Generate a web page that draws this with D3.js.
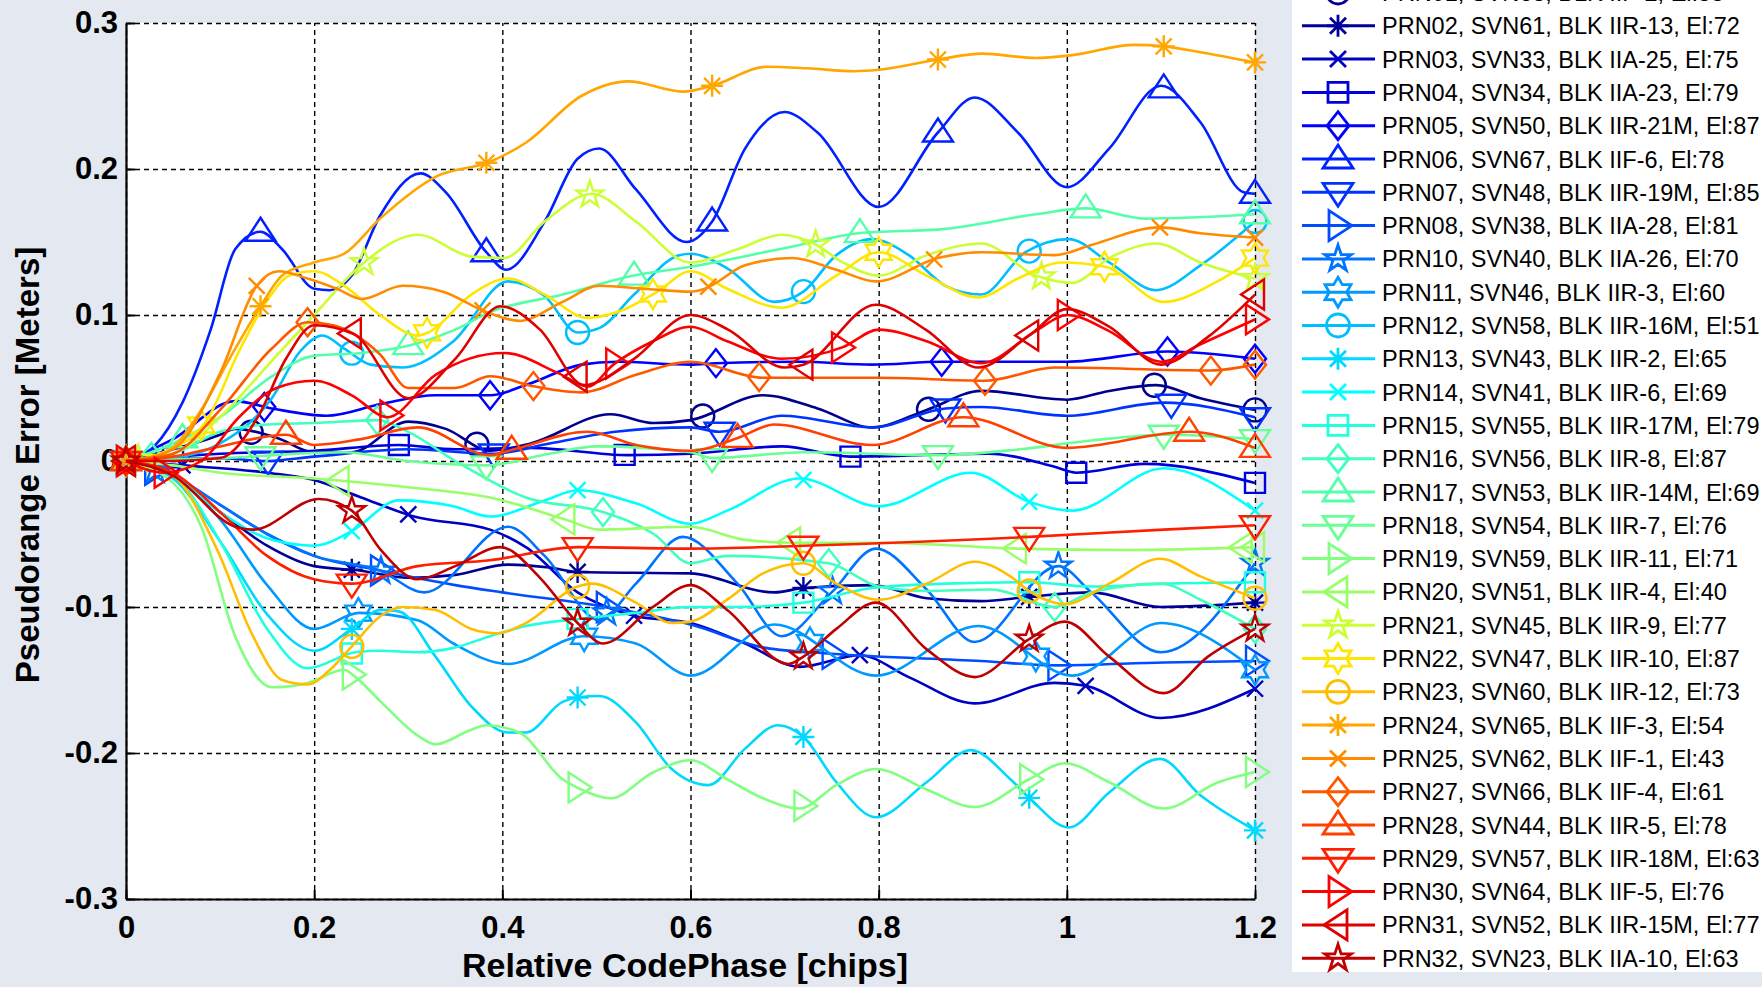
<!DOCTYPE html>
<html><head><meta charset="utf-8">
<script src="https://cdn.jsdelivr.net/npm/d3@7"></script>
<style>
html,body{margin:0;padding:0;background:#e4e8f1;}
svg{display:block;}
text{font-family:"Liberation Sans",Arial,Helvetica,sans-serif;}
</style></head>
<body>
<svg id="chart" width="1762" height="987"></svg>
<script>
// ---------- DATA ----------
const xTicks = [0, 0.2, 0.4, 0.6, 0.8, 1, 1.2];
const xTickLabels = ["0", "0.2", "0.4", "0.6", "0.8", "1", "1.2"];
const yTicks = [-0.3, -0.2, -0.1, 0, 0.1, 0.2, 0.3];
const yTickLabels = ["-0.3", "-0.2", "-0.1", "0", "0.1", "0.2", "0.3"];

const seriesNames = ["PRN01","PRN02","PRN03","PRN04","PRN05","PRN06","PRN07","PRN08","PRN10","PRN11",
  "PRN12","PRN13","PRN14","PRN15","PRN16","PRN17","PRN18","PRN19","PRN20","PRN21",
  "PRN22","PRN23","PRN24","PRN25","PRN27","PRN28","PRN29","PRN30","PRN31","PRN32"];

const legendLabels = [
  "PRN01, SVN63, BLK IIF-2, El:55",
  "PRN02, SVN61, BLK IIR-13, El:72",
  "PRN03, SVN33, BLK IIA-25, El:75",
  "PRN04, SVN34, BLK IIA-23, El:79",
  "PRN05, SVN50, BLK IIR-21M, El:87",
  "PRN06, SVN67, BLK IIF-6, El:78",
  "PRN07, SVN48, BLK IIR-19M, El:85",
  "PRN08, SVN38, BLK IIA-28, El:81",
  "PRN10, SVN40, BLK IIA-26, El:70",
  "PRN11, SVN46, BLK IIR-3, El:60",
  "PRN12, SVN58, BLK IIR-16M, El:51",
  "PRN13, SVN43, BLK IIR-2, El:65",
  "PRN14, SVN41, BLK IIR-6, El:69",
  "PRN15, SVN55, BLK IIR-17M, El:79",
  "PRN16, SVN56, BLK IIR-8, El:87",
  "PRN17, SVN53, BLK IIR-14M, El:69",
  "PRN18, SVN54, BLK IIR-7, El:76",
  "PRN19, SVN59, BLK IIR-11, El:71",
  "PRN20, SVN51, BLK IIR-4, El:40",
  "PRN21, SVN45, BLK IIR-9, El:77",
  "PRN22, SVN47, BLK IIR-10, El:87",
  "PRN23, SVN60, BLK IIR-12, El:73",
  "PRN24, SVN65, BLK IIF-3, El:54",
  "PRN25, SVN62, BLK IIF-1, El:43",
  "PRN27, SVN66, BLK IIF-4, El:61",
  "PRN28, SVN44, BLK IIR-5, El:78",
  "PRN29, SVN57, BLK IIR-18M, El:63",
  "PRN30, SVN64, BLK IIF-5, El:76",
  "PRN31, SVN52, BLK IIR-15M, El:77",
  "PRN32, SVN23, BLK IIA-10, El:63"
];

// [codePhase (chips), pseudorange error (m)]
const prn01 = [[0,0],[0.05,0.008],[0.1,0.018],[0.116,0.022],[0.16,0.016],[0.2,0.006],[0.24,0.006],[0.3,0.027],[0.34,0.022],[0.387,0.007],[0.43,0.012],[0.515,0.032],[0.561,0.026],[0.6,0.028],[0.677,0.045],[0.735,0.036],[0.793,0.023],[0.851,0.035],[0.909,0.048],[1.0,0.042],[1.045,0.048],[1.095,0.052],[1.142,0.043],[1.2,0.035]];
const prn02 = [[0,0],[0.05,-0.01],[0.1,-0.035],[0.15,-0.058],[0.2,-0.072],[0.248,-0.075],[0.3,-0.08],[0.35,-0.078],[0.406,-0.071],[0.45,-0.073],[0.48,-0.076],[0.6,-0.077],[0.689,-0.09],[0.72,-0.087],[0.793,-0.085],[0.851,-0.094],[0.909,-0.096],[0.96,-0.093],[1.026,-0.09],[1.1,-0.1],[1.2,-0.097]];
const prn03 = [[0,0],[0.06,-0.003],[0.15,-0.008],[0.2,-0.013],[0.25,-0.025],[0.306,-0.038],[0.387,-0.047],[0.425,-0.059],[0.48,-0.09],[0.54,-0.106],[0.6,-0.111],[0.658,-0.125],[0.716,-0.141],[0.78,-0.133],[0.832,-0.148],[0.902,-0.166],[0.987,-0.152],[1.02,-0.154],[1.1,-0.176],[1.2,-0.156]];
const prn04 = [[0,0],[0.1,0.005],[0.2,0.007],[0.29,0.011],[0.35,0.008],[0.43,0.009],[0.534,0.004],[0.6,0.005],[0.697,0.01],[0.77,0.003],[0.917,0.005],[0.987,-0.004],[1.01,-0.008],[1.083,-0.002],[1.2,-0.015]];
const prn05 = [[0,0],[0.05,0.015],[0.116,0.041],[0.155,0.036],[0.213,0.031],[0.271,0.039],[0.329,0.045],[0.387,0.045],[0.425,0.052],[0.484,0.066],[0.522,0.068],[0.6,0.066],[0.627,0.067],[0.716,0.068],[0.793,0.066],[0.867,0.068],[1.0,0.068],[1.107,0.075],[1.2,0.07]];
const prn06 = [[0,0],[0.03,0.01],[0.06,0.04],[0.09,0.09],[0.116,0.145],[0.143,0.157],[0.166,0.145],[0.2,0.118],[0.217,0.117],[0.24,0.127],[0.27,0.168],[0.313,0.197],[0.34,0.184],[0.383,0.143],[0.404,0.131],[0.445,0.164],[0.48,0.207],[0.503,0.214],[0.542,0.186],[0.596,0.15],[0.623,0.164],[0.658,0.214],[0.7,0.239],[0.735,0.225],[0.8,0.174],[0.863,0.225],[0.902,0.249],[0.948,0.225],[1.0,0.1875],[1.045,0.214],[1.1,0.257],[1.142,0.232],[1.188,0.184],[1.2,0.183]];
const prn07 = [[0,0],[0.1,0.002],[0.147,0.0],[0.2,0.003],[0.3,0.008],[0.39,0.005],[0.45,0.012],[0.52,0.02],[0.6,0.023],[0.631,0.02],[0.697,0.031],[0.793,0.023],[0.871,0.036],[0.909,0.037],[1.0,0.031],[1.103,0.04],[1.2,0.03]];
const prn08 = [[0,0],[0.05,-0.01],[0.1,-0.03],[0.15,-0.05],[0.2,-0.065],[0.27,-0.075],[0.35,-0.085],[0.4,-0.09],[0.51,-0.1],[0.6,-0.112],[0.68,-0.128],[0.75,-0.132],[0.909,-0.137],[0.99,-0.14],[1.103,-0.138],[1.2,-0.137]];
const prn10 = [[0,0],[0.05,-0.01],[0.1,-0.03],[0.15,-0.05],[0.2,-0.065],[0.27,-0.075],[0.317,-0.09],[0.406,-0.045],[0.445,-0.065],[0.503,-0.109],[0.542,-0.084],[0.592,-0.052],[0.65,-0.084],[0.697,-0.12],[0.75,-0.09],[0.797,-0.06],[0.851,-0.088],[0.902,-0.124],[0.991,-0.072],[1.026,-0.09],[1.1,-0.131],[1.2,-0.07]];
const prn11 = [[0,0],[0.05,-0.01],[0.1,-0.04],[0.15,-0.085],[0.2,-0.115],[0.248,-0.104],[0.31,-0.109],[0.348,-0.125],[0.406,-0.139],[0.487,-0.12],[0.542,-0.125],[0.6,-0.147],[0.689,-0.112],[0.797,-0.147],[0.906,-0.113],[1.006,-0.147],[1.1,-0.111],[1.2,-0.143]];
const prn12 = [[0,0],[0.05,0.002],[0.1,0.012],[0.155,0.043],[0.185,0.075],[0.209,0.086],[0.232,0.077],[0.26,0.066],[0.294,0.064],[0.348,0.082],[0.406,0.123],[0.445,0.113],[0.48,0.088],[0.503,0.091],[0.54,0.114],[0.588,0.141],[0.6,0.142],[0.639,0.132],[0.689,0.109],[0.72,0.116],[0.755,0.141],[0.793,0.152],[0.832,0.141],[0.871,0.12],[0.909,0.114],[0.956,0.143],[1.002,0.152],[1.045,0.136],[1.095,0.117],[1.142,0.134],[1.2,0.164]];
const prn13 = [[0,0],[0.05,-0.012],[0.1,-0.055],[0.15,-0.105],[0.2,-0.13],[0.24,-0.115],[0.271,-0.102],[0.29,-0.103],[0.329,-0.134],[0.367,-0.168],[0.406,-0.186],[0.425,-0.186],[0.464,-0.165],[0.48,-0.162],[0.503,-0.161],[0.542,-0.179],[0.58,-0.211],[0.619,-0.222],[0.658,-0.197],[0.693,-0.181],[0.72,-0.189],[0.755,-0.22],[0.797,-0.244],[0.851,-0.22],[0.898,-0.198],[0.94,-0.218],[0.962,-0.232],[1.002,-0.251],[1.045,-0.227],[1.099,-0.204],[1.142,-0.229],[1.2,-0.253]];
const prn14 = [[0,0],[0.05,-0.01],[0.1,-0.035],[0.155,-0.054],[0.2,-0.058],[0.24,-0.048],[0.29,-0.027],[0.348,-0.031],[0.387,-0.038],[0.445,-0.027],[0.48,-0.02],[0.542,-0.029],[0.6,-0.043],[0.639,-0.034],[0.716,-0.012],[0.8,-0.031],[0.898,-0.008],[0.96,-0.028],[1.006,-0.034],[1.103,-0.005],[1.2,-0.034]];
const prn15 = [[0,0],[0.05,-0.01],[0.1,-0.055],[0.15,-0.115],[0.193,-0.142],[0.244,-0.131],[0.271,-0.13],[0.31,-0.131],[0.348,-0.128],[0.387,-0.12],[0.425,-0.113],[0.484,-0.108],[0.542,-0.104],[0.6,-0.1],[0.65,-0.1],[0.72,-0.097],[0.793,-0.087],[0.871,-0.084],[0.962,-0.083],[1.026,-0.086],[1.103,-0.084],[1.2,-0.083]];
const prn16 = [[0,0],[0.05,0.005],[0.1,0.02],[0.15,0.025],[0.2,0.026],[0.267,0.028],[0.3,0.02],[0.35,0.0],[0.425,-0.025],[0.507,-0.035],[0.561,-0.05],[0.6,-0.07],[0.639,-0.065],[0.747,-0.07],[0.8,-0.086],[0.851,-0.089],[0.92,-0.088],[0.987,-0.1],[1.026,-0.09],[1.1,-0.084],[1.142,-0.095],[1.2,-0.115]];
const prn17 = [[0,0],[0.05,0.012],[0.1,0.03],[0.155,0.058],[0.2,0.072],[0.25,0.074],[0.306,0.08],[0.35,0.09],[0.387,0.102],[0.464,0.114],[0.54,0.127],[0.6,0.133],[0.716,0.148],[0.778,0.156],[0.871,0.159],[0.967,0.169],[1.02,0.173],[1.083,0.166],[1.2,0.169]];
const prn18 = [[0,0],[0.1,0.002],[0.232,0.006],[0.3,0.0],[0.383,-0.003],[0.45,0.005],[0.5,0.01],[0.6,0.006],[0.623,0.002],[0.72,0.006],[0.863,0.004],[0.95,0.008],[1.026,0.014],[1.103,0.018],[1.2,0.015]];
const prn19 = [[0,0],[0.05,-0.015],[0.08,-0.045],[0.116,-0.12],[0.155,-0.155],[0.193,-0.152],[0.232,-0.143],[0.242,-0.147],[0.271,-0.165],[0.31,-0.188],[0.329,-0.194],[0.367,-0.184],[0.383,-0.181],[0.418,-0.186],[0.464,-0.218],[0.484,-0.225],[0.515,-0.231],[0.561,-0.213],[0.6,-0.205],[0.639,-0.218],[0.677,-0.231],[0.716,-0.238],[0.755,-0.222],[0.797,-0.211],[0.851,-0.225],[0.902,-0.237],[0.96,-0.218],[0.998,-0.207],[1.045,-0.22],[1.103,-0.238],[1.161,-0.22],[1.2,-0.213]];
const prn20 = [[0,0],[0.05,-0.003],[0.1,-0.008],[0.2,-0.012],[0.3,-0.018],[0.387,-0.025],[0.467,-0.04],[0.503,-0.047],[0.6,-0.045],[0.658,-0.054],[0.712,-0.056],[0.8,-0.056],[0.947,-0.06],[1.064,-0.061],[1.2,-0.059]];
const prn21 = [[0,0],[0.05,0.005],[0.1,0.03],[0.15,0.065],[0.2,0.1],[0.253,0.136],[0.31,0.155],[0.367,0.14],[0.402,0.139],[0.445,0.164],[0.495,0.183],[0.542,0.164],[0.6,0.136],[0.65,0.145],[0.697,0.155],[0.731,0.149],[0.762,0.136],[0.8,0.127],[0.851,0.141],[0.909,0.149],[0.967,0.127],[1.006,0.122],[1.045,0.139],[1.095,0.149],[1.142,0.136],[1.2,0.125]];
const prn22 = [[0,0],[0.04,0.006],[0.085,0.027],[0.12,0.075],[0.15,0.11],[0.174,0.127],[0.2,0.13],[0.232,0.12],[0.27,0.1],[0.31,0.086],[0.321,0.088],[0.367,0.114],[0.406,0.125],[0.445,0.114],[0.491,0.098],[0.522,0.102],[0.565,0.116],[0.6,0.13],[0.639,0.118],[0.697,0.105],[0.755,0.127],[0.8,0.143],[0.851,0.127],[0.906,0.112],[0.948,0.125],[0.995,0.136],[1.041,0.133],[1.103,0.109],[1.16,0.123],[1.2,0.139]];
const prn23 = [[0,0],[0.05,-0.01],[0.097,-0.061],[0.135,-0.12],[0.166,-0.15],[0.193,-0.153],[0.217,-0.143],[0.24,-0.127],[0.271,-0.106],[0.294,-0.1],[0.329,-0.102],[0.367,-0.115],[0.395,-0.118],[0.425,-0.111],[0.48,-0.086],[0.495,-0.084],[0.542,-0.097],[0.58,-0.111],[0.6,-0.11],[0.639,-0.095],[0.677,-0.077],[0.72,-0.07],[0.755,-0.084],[0.8,-0.095],[0.851,-0.084],[0.902,-0.069],[0.94,-0.079],[0.962,-0.09],[0.998,-0.098],[1.045,-0.084],[1.099,-0.067],[1.142,-0.079],[1.2,-0.094]];
const prn24 = [[0,0],[0.04,0.005],[0.08,0.035],[0.11,0.07],[0.143,0.106],[0.166,0.127],[0.2,0.136],[0.232,0.142],[0.27,0.166],[0.33,0.195],[0.387,0.205],[0.425,0.218],[0.484,0.25],[0.534,0.26],[0.592,0.253],[0.623,0.257],[0.681,0.27],[0.724,0.269],[0.774,0.267],[0.8,0.268],[0.863,0.275],[0.91,0.279],[0.967,0.276],[1.006,0.278],[1.072,0.285],[1.103,0.284],[1.142,0.28],[1.2,0.273]];
const prn25 = [[0,0],[0.05,0.008],[0.1,0.06],[0.139,0.12],[0.162,0.13],[0.193,0.125],[0.224,0.118],[0.251,0.111],[0.294,0.12],[0.337,0.116],[0.383,0.102],[0.418,0.096],[0.464,0.109],[0.503,0.12],[0.55,0.118],[0.6,0.116],[0.615,0.118],[0.658,0.134],[0.708,0.139],[0.755,0.131],[0.797,0.123],[0.863,0.139],[0.909,0.143],[0.987,0.141],[1.026,0.148],[1.099,0.16],[1.142,0.156],[1.2,0.153]];
const prn27 = [[0,0],[0.05,0.005],[0.1,0.035],[0.155,0.077],[0.193,0.095],[0.22,0.093],[0.27,0.073],[0.3,0.05],[0.35,0.05],[0.387,0.058],[0.435,0.051],[0.484,0.047],[0.542,0.059],[0.6,0.068],[0.677,0.057],[0.8,0.057],[0.913,0.055],[0.987,0.064],[1.153,0.062],[1.2,0.066]];
const prn28 = [[0,0],[0.05,0.003],[0.1,0.01],[0.17,0.018],[0.2,0.011],[0.25,0.015],[0.31,0.023],[0.387,0.004],[0.412,0.008],[0.491,0.02],[0.542,0.011],[0.6,0.007],[0.651,0.016],[0.689,0.025],[0.793,0.011],[0.89,0.03],[1.0,0.009],[1.13,0.02],[1.2,0.009]];
const prn29 = [[0,0],[0.05,-0.008],[0.1,-0.035],[0.15,-0.065],[0.2,-0.081],[0.24,-0.084],[0.31,-0.072],[0.387,-0.068],[0.48,-0.059],[0.6,-0.06],[0.72,-0.058],[0.96,-0.052],[1.103,-0.047],[1.2,-0.044]];
const prn30 = [[0,0],[0.04,-0.008],[0.08,0.0],[0.12,0.03],[0.16,0.05],[0.2,0.055],[0.24,0.045],[0.278,0.03],[0.329,0.059],[0.402,0.074],[0.46,0.06],[0.491,0.051],[0.518,0.066],[0.56,0.082],[0.6,0.092],[0.639,0.082],[0.697,0.07],[0.762,0.078],[0.8,0.09],[0.851,0.082],[0.909,0.067],[0.967,0.089],[1.0,0.1],[1.045,0.089],[1.1,0.068],[1.142,0.08],[1.2,0.097]];
const prn31 = [[0,0],[0.05,0.0],[0.1,0.002],[0.14,0.03],[0.17,0.07],[0.2,0.093],[0.242,0.087],[0.3,0.043],[0.35,0.07],[0.398,0.106],[0.44,0.09],[0.487,0.052],[0.54,0.07],[0.6,0.1],[0.64,0.09],[0.7,0.064],[0.72,0.066],[0.797,0.107],[0.85,0.09],[0.906,0.064],[0.96,0.086],[1.0,0.104],[1.045,0.092],[1.1,0.066],[1.15,0.085],[1.2,0.114]];
const prn32 = [[0,0],[0.05,-0.01],[0.116,-0.045],[0.135,-0.047],[0.205,-0.026],[0.24,-0.034],[0.271,-0.061],[0.31,-0.081],[0.35,-0.072],[0.398,-0.059],[0.44,-0.08],[0.48,-0.111],[0.507,-0.125],[0.56,-0.1],[0.6,-0.085],[0.639,-0.102],[0.704,-0.139],[0.72,-0.134],[0.755,-0.115],[0.797,-0.097],[0.851,-0.129],[0.902,-0.148],[0.96,-0.122],[0.998,-0.11],[1.045,-0.134],[1.103,-0.159],[1.15,-0.134],[1.2,-0.115]];

// first marker position (chips) of each series; markers repeat every 0.24 chips
const markerStarts = [0.133,0.24,0.06,0.05,0.147,0.143,0.151,0.03,0.031,0.247,
  0.24,0.24,0.24,0.24,0.027,0.06,0.143,0.24,0.227,0.013,
  0.08,0.24,0.143,0.139,0.193,0.17,0.24,0.04,0.24,0.24];

// ---------- STYLE ----------
const seriesColors = ["#00008f","#000099","#0000bf","#0000df","#0000ff","#0020ff","#0033ff","#004dff","#0073ff","#0099ff",
  "#00bfff","#00d9ff","#00ffff","#20ffdf","#40ffbf","#55ffaa","#6aff95","#80ff80","#99ff66","#ccff33",
  "#ffe600","#ffbf00","#ffa600","#ff8c00","#ff5900","#ff4000","#ff1f00","#ff0000","#df0000","#bf0000"];
const markerCycle = ["o","*","x","s","d","^","v",">","<","p","h"];

const seriesData = [prn01,prn02,prn03,prn04,prn05,prn06,prn07,prn08,prn10,prn11,prn12,prn13,prn14,prn15,prn16,
  prn17,prn18,prn19,prn20,prn21,prn22,prn23,prn24,prn25,prn27,prn28,prn29,prn30,prn31,prn32];

// ---------- DRAW ----------
const svg = d3.select("#chart");
const L = 126, R = 1255, T = 23, B = 899;
const x = d3.scaleLinear().domain([0, 1.2]).range([L, R]);
const y = d3.scaleLinear().domain([-0.3, 0.3]).range([B, T]);

svg.append("rect").attr("x", 0).attr("y", 0).attr("width", 1762).attr("height", 987).attr("fill", "#e4e8f1");
svg.append("rect").attr("x", L).attr("y", T).attr("width", R - L).attr("height", B - T).attr("fill", "#fff");

// grid
const gx = svg.append("g").attr("transform", `translate(0,${B})`)
  .call(d3.axisBottom(x).tickValues(xTicks).tickSize(-(B - T)).tickFormat(""));
gx.select(".domain").remove();
gx.selectAll("line").attr("stroke", "#000").attr("stroke-width", 1.4).attr("stroke-dasharray", "5,4");
const gy = svg.append("g").attr("transform", `translate(${L},0)`)
  .call(d3.axisLeft(y).tickValues(yTicks).tickSize(-(R - L)).tickFormat(""));
gy.select(".domain").remove();
gy.selectAll("line").attr("stroke", "#000").attr("stroke-width", 1.4).attr("stroke-dasharray", "5,4");

// axes
const ax = svg.append("g").attr("transform", `translate(0,${B})`)
  .call(d3.axisBottom(x).tickValues(xTicks).tickSize(-9).tickSizeOuter(0).tickPadding(17)
    .tickFormat((d, i) => xTickLabels[i]));
const ay = svg.append("g").attr("transform", `translate(${L},0)`)
  .call(d3.axisLeft(y).tickValues(yTicks).tickSize(-9).tickSizeOuter(0).tickPadding(8)
    .tickFormat((d, i) => yTickLabels[i]));
[ax, ay].forEach(g => {
  g.select(".domain").attr("stroke", "#000").attr("stroke-width", 2.2);
  g.selectAll(".tick line").attr("stroke", "#000").attr("stroke-width", 2);
  g.selectAll(".tick text").attr("fill", "#000").attr("font-size", 31).attr("font-weight", "bold")
    .attr("font-family", "'Liberation Sans', Arial, sans-serif");
});

// axis titles
svg.append("text").attr("x", 685).attr("y", 977).attr("text-anchor", "middle")
  .attr("font-size", 34).attr("font-weight", "bold").attr("fill", "#000")
  .text("Relative CodePhase [chips]");
svg.append("text").attr("transform", "translate(39,465) rotate(-90)").attr("text-anchor", "middle")
  .attr("font-size", 33).attr("font-weight", "bold").attr("fill", "#000")
  .text("Pseudorange Error [Meters]");

// marker shapes
function starPts(n, Ro, Ri, rot) {
  const p = [];
  for (let k = 0; k < 2 * n; k++) {
    const r = k % 2 === 0 ? Ro : Ri;
    const a = rot + k * Math.PI / n;
    p.push([r * Math.sin(a), -r * Math.cos(a)]);
  }
  return "M" + p.map(q => q[0].toFixed(2) + "," + q[1].toFixed(2)).join("L") + "Z";
}
function markerPath(sym) {
  switch (sym) {
    case "o": return "M11.5,0A11.5,11.5 0 1 1 -11.5,0A11.5,11.5 0 1 1 11.5,0Z";
    case "*": return "M0,-11V11M-11,0H11M-8,-8L8,8M-8,8L8,-8";
    case "x": return "M-8,-8L8,8M-8,8L8,-8";
    case "s": return "M-10,-10H10V10H-10Z";
    case "d": return "M0,-14L11,0L0,14L-11,0Z";
    case "^": return "M0,-14L15,9L-15,9Z";
    case "v": return "M0,14L15,-9L-15,-9Z";
    case ">": return "M14,0L-9,-15L-9,15Z";
    case "<": return "M-14,0L9,-15L9,15Z";
    case "p": return starPts(5, 14, 5.4, 0);
    case "h": return starPts(6, 15, 8.7, 0);
  }
}
function prnNumber(name) { return parseInt(name.slice(3), 10); }
function yAt(data, xv) {
  for (let i = 1; i < data.length; i++) {
    if (xv <= data[i][0] + 1e-9) {
      const a = data[i - 1], b = data[i];
      const t = (xv - a[0]) / (b[0] - a[0]);
      return a[1] + t * (b[1] - a[1]);
    }
  }
  return data[data.length - 1][1];
}

const line = d3.line().x(d => x(d[0])).y(d => y(d[1])).curve(d3.curveMonotoneX);
const plotG = svg.append("g");

seriesData.forEach((data, i) => {
  const col = seriesColors[i];
  const sym = markerCycle[(prnNumber(seriesNames[i]) - 1) % 11];
  const g = plotG.append("g");
  g.append("path").attr("d", line(data)).attr("fill", "none").attr("stroke", col)
    .attr("stroke-width", 2.6).attr("stroke-linejoin", "round");
  const xs = [0];
  for (let v = markerStarts[i]; v <= 1.2001; v += 0.24) xs.push(v);
  if (xs[xs.length - 1] < 1.19) xs.push(1.2);
  g.selectAll("path.mk").data(xs).enter().append("path").attr("class", "mk")
    .attr("transform", v => `translate(${x(v)},${y(yAt(data, v))})`)
    .attr("d", markerPath(sym)).attr("fill", "none").attr("stroke", col)
    .attr("stroke-width", 2.4).attr("stroke-linejoin", "miter");
});

// legend
const lg = svg.append("g");
lg.append("rect").attr("x", 1292).attr("y", -10).attr("width", 480).attr("height", 982).attr("fill", "#fff");
legendLabels.forEach((lab, i) => {
  const cy = -7.5 + i * 33.3;
  const col = seriesColors[i];
  const sym = markerCycle[(prnNumber(seriesNames[i]) - 1) % 11];
  lg.append("line").attr("x1", 1302).attr("x2", 1375).attr("y1", cy).attr("y2", cy)
    .attr("stroke", col).attr("stroke-width", 3);
  lg.append("path").attr("transform", `translate(1338,${cy})`).attr("d", markerPath(sym))
    .attr("fill", "none").attr("stroke", col).attr("stroke-width", 2.8);
  lg.append("text").attr("x", 1382).attr("y", cy + 8.5).attr("font-size", 23.5).attr("fill", "#000").text(lab);
});
</script>
</body></html>
